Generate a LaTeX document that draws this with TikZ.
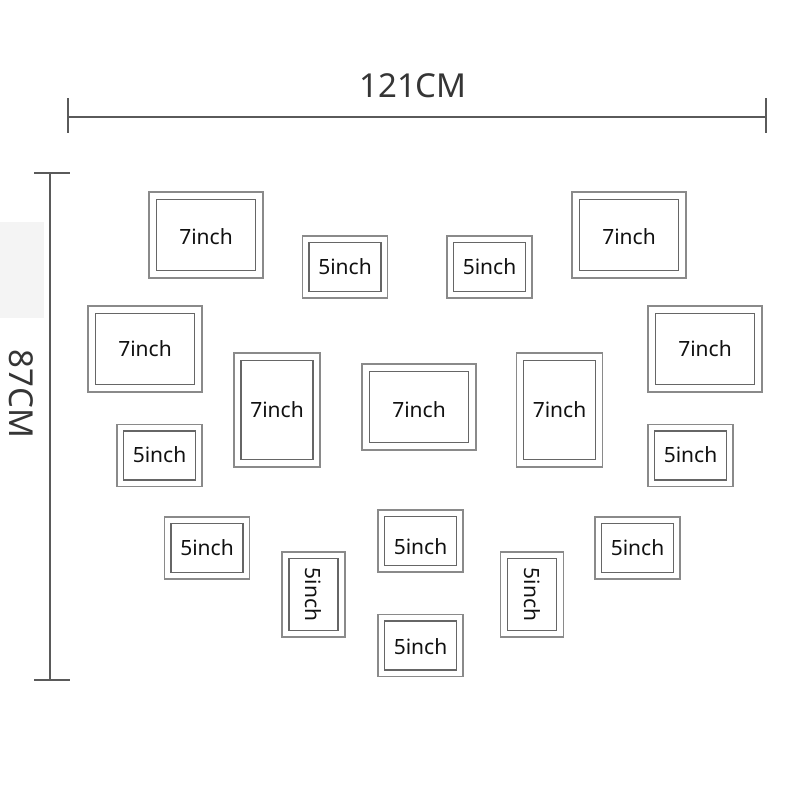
\documentclass[tikz,border=0pt]{standalone}
\usepackage{fontspec}
\setmainfont{Noto Sans}
\definecolor{dimc}{HTML}{5A5A5A}
\definecolor{outc}{HTML}{8A8A8A}
\definecolor{inc}{HTML}{666666}
\definecolor{txtc}{HTML}{111111}
\definecolor{smudge}{HTML}{F4F4F4}
\begin{document}
\begin{tikzpicture}[x=1pt,y=-1pt,
  outerf/.style={draw=outc, line width=1.7pt, inner sep=0pt, fill=white},
  innerf/.style={draw=inc, line width=1.7pt, inner sep=0pt},
  lab/.style={inner sep=0pt, font=\fontsize{21}{25}\selectfont, text=txtc},
  lseven/.style={minimum width=114pt, minimum height=86pt},
  lsevenin/.style={minimum width=99pt, minimum height=71pt},
  lfive/.style={minimum width=85pt, minimum height=62pt},
  lfivein/.style={minimum width=72pt, minimum height=49pt},
  pseven/.style={minimum width=86pt, minimum height=114pt},
  psevenin/.style={minimum width=72pt, minimum height=99pt},
  pfive/.style={minimum width=63pt, minimum height=85pt},
  pfivein/.style={minimum width=49pt, minimum height=72pt},
  dimline/.style={draw=dimc, line width=1.5pt},
  dimtext/.style={font=\fontsize{33}{38}\selectfont, text=txtc!85!white}
]
\useasboundingbox (0,0) rectangle (800,800);
% faint grey block at left
\fill[smudge] (0,222) rectangle (44,318);

% dimension lines
\coordinate (hl) at (68,117);
\coordinate (hr) at (766,117);
\coordinate (hlt) at (68,98);
\coordinate (hlb) at (68,133);
\coordinate (hrt) at (766,98);
\coordinate (hrb) at (766,133);
\draw[dimline] (hl) -- (hr);
\draw[dimline] (hlt) -- (hlb);
\draw[dimline] (hrt) -- (hrb);
\node[dimtext] (wlab) at (413,86) {121CM};

\coordinate (vt) at (50,173);
\coordinate (vb) at (50,680);
\coordinate (vtl) at (34,173);
\coordinate (vtr) at (70,173);
\coordinate (vbl) at (34,680);
\coordinate (vbr) at (70,680);
\draw[dimline] (vt) -- (vb);
\draw[dimline] (vtl) -- (vtr);
\draw[dimline] (vbl) -- (vbr);
\node[dimtext, rotate=-90] (hlab) at (21,394) {87CM};

% frames
\node[outerf, lseven] (f1o) at (206,235) {};
\node[innerf, lsevenin] (f1) at (f1o) {};
\node[lab, yshift=-2pt] (t1) at (f1) {7inch};
\node[outerf, lfive] (f2o) at (345,267) {};
\node[innerf, lfivein] (f2) at (f2o) {};
\node[lab] (t2) at (f2) {5inch};
\node[outerf, lfive] (f3o) at (489.5,267) {};
\node[innerf, lfivein] (f3) at (f3o) {};
\node[lab] (t3) at (f3) {5inch};
\node[outerf, lseven] (f4o) at (629,235) {};
\node[innerf, lsevenin] (f4) at (f4o) {};
\node[lab, yshift=-2pt] (t4) at (f4) {7inch};

\node[outerf, lseven] (f5o) at (145,349) {};
\node[innerf, lsevenin] (f5) at (f5o) {};
\node[lab] (t5) at (f5) {7inch};
\node[outerf, lfive] (f6o) at (159.5,455.5) {};
\node[innerf, lfivein] (f6) at (f6o) {};
\node[lab, yshift=1pt] (t6) at (f6) {5inch};
\node[outerf, pseven] (f7o) at (277,410) {};
\node[innerf, psevenin] (f7) at (f7o) {};
\node[lab] (t7) at (f7) {7inch};
\node[outerf, lseven] (f8o) at (419,407) {};
\node[innerf, lsevenin] (f8) at (f8o) {};
\node[lab, yshift=-3pt] (t8) at (f8) {7inch};
\node[outerf, pseven] (f9o) at (559.5,410) {};
\node[innerf, psevenin] (f9) at (f9o) {};
\node[lab] (t9) at (f9) {7inch};
\node[outerf, lseven] (f10o) at (705,349) {};
\node[innerf, lsevenin] (f10) at (f10o) {};
\node[lab] (t10) at (f10) {7inch};
\node[outerf, lfive] (f11o) at (690.5,455.5) {};
\node[innerf, lfivein] (f11) at (f11o) {};
\node[lab, yshift=1pt] (t11) at (f11) {5inch};

\node[outerf, lfive] (f12o) at (207,548) {};
\node[innerf, lfivein] (f12) at (f12o) {};
\node[lab] (t12) at (f12) {5inch};
\node[outerf, pfive] (f13o) at (313.5,594.5) {};
\node[innerf, pfivein] (f13) at (f13o) {};
\node[lab, rotate=-90] (t13) at (f13) {5inch};
\node[outerf, lfive] (f14o) at (420.5,541) {};
\node[innerf, lfivein] (f14) at (f14o) {};
\node[lab, yshift=-6pt] (t14) at (f14) {5inch};
\node[outerf, lfive] (f15o) at (420.5,645.5) {};
\node[innerf, lfivein] (f15) at (f15o) {};
\node[lab, yshift=-1pt] (t15) at (f15) {5inch};
\node[outerf, pfive] (f16o) at (532,594.5) {};
\node[innerf, pfivein] (f16) at (f16o) {};
\node[lab, rotate=-90] (t16) at (f16) {5inch};
\node[outerf, lfive] (f17o) at (637.5,548) {};
\node[innerf, lfivein] (f17) at (f17o) {};
\node[lab] (t17) at (f17) {5inch};
\end{tikzpicture}
\end{document}
